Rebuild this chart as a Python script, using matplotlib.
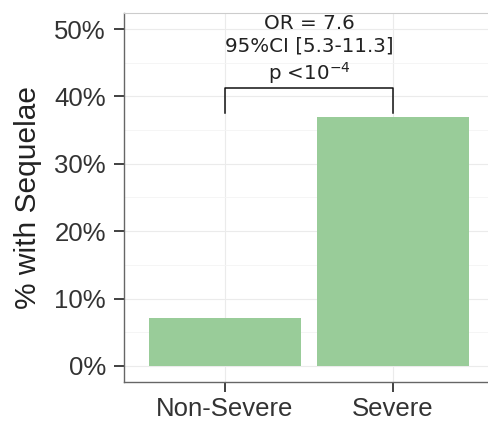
import matplotlib
matplotlib.use("Agg")
import matplotlib.pyplot as plt
from matplotlib.ticker import MultipleLocator, FuncFormatter

# data
categories = ["Non-Severe", "Severe"]
pct_sequelae = [7.1, 36.9]
bracket_y = [37.6, 41.3]
annot_lines = ["OR = 7.6", "95%CI [5.3-11.3]", "p <10$^{-4}$"]

bar_color = "#99cc99"

fig = plt.figure(figsize=(4.88, 4.23), dpi=100)
# panel runs a little past the right edge, like the reference
ax = fig.add_axes([124 / 488, 1 - 382 / 423, 370 / 488, 369 / 423])

x = range(len(categories))
ax.bar(x, pct_sequelae, width=0.9, color=bar_color, zorder=2)

ax.set_xlim(-0.6, 1.6)
ax.set_ylim(-2.4, 52.4)

ax.yaxis.set_major_locator(MultipleLocator(10))
ax.yaxis.set_minor_locator(MultipleLocator(5))
ax.yaxis.set_major_formatter(FuncFormatter(lambda v, p: f"{v:.0f}%"))
ax.set_xticks(list(x))
ax.set_xticklabels(categories)

ax.grid(which="major", color="#ebebeb", lw=0.8, zorder=0)
ax.grid(which="minor", axis="y", color="#f4f4f4", lw=0.6, zorder=0)
ax.set_axisbelow(True)

for s in ["top", "right"]:
    ax.spines[s].set_color("#cccccc")
    ax.spines[s].set_linewidth(0.8)
for s in ["left", "bottom"]:
    ax.spines[s].set_color("#666666")
    ax.spines[s].set_linewidth(1.0)

ax.tick_params(axis="both", which="major", direction="out", length=7, width=1.3,
               color="#333333", labelsize=18.5, labelcolor="#333333")
ax.tick_params(axis="y", which="major", pad=6)
ax.tick_params(axis="x", which="major", pad=4)
ax.tick_params(axis="y", which="minor", length=0)
for lab in ax.get_xticklabels() + ax.get_yticklabels():
    lab.set_family("Liberation Sans")

ax.set_ylabel("% with Sequelae", fontsize=21.5, family="Liberation Sans",
              color="#222222", labelpad=9)

# significance bracket
ax.plot([0, 0, 1, 1], [bracket_y[0], bracket_y[1], bracket_y[1], bracket_y[0]],
        color="#111111", lw=1.1, zorder=3, clip_on=False)
ax.text(0.5, bracket_y[1] + 0.3, "\n".join(annot_lines), ha="center", va="bottom",
        fontsize=14.3, family="DejaVu Sans", color="#222222", linespacing=1.22)

fig.savefig("out.png", dpi=100)
